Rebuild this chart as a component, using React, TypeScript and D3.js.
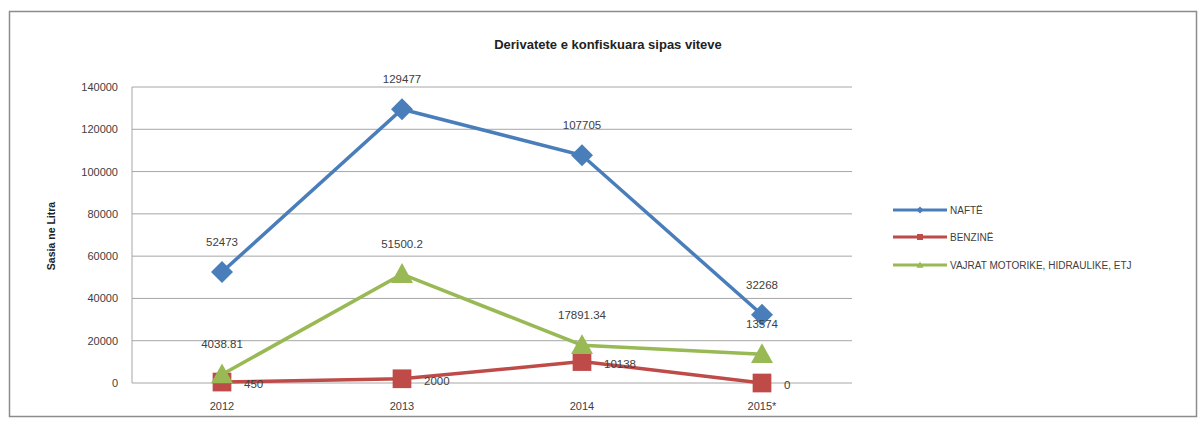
import * as d3 from "d3";
import React from "react";

const years = ["2012", "2013", "2014", "2015*"];
const nafte = [52473, 129477, 107705, 32268];
const benzine = [450, 2000, 10138, 0];
const vajrat = [4038.81, 51500.2, 17891.34, 13574];
const labelsNafte = ["52473", "129477", "107705", "32268"];
const labelsBenzine = ["450", "2000", "10138", "0"];
const labelsVajrat = ["4038.81", "51500.2", "17891.34", "13574"];
const yTicks = [0, 20000, 40000, 60000, 80000, 100000, 120000, 140000];

const series = [
  { name: "NAFTË", values: nafte, labels: labelsNafte, color: "#4a7ebb", marker: "diamond", pos: "above" },
  { name: "BENZINË", values: benzine, labels: labelsBenzine, color: "#be4b48", marker: "square", pos: "right" },
  { name: "VAJRAT MOTORIKE, HIDRAULIKE, ETJ", values: vajrat, labels: labelsVajrat, color: "#98b954", marker: "triangle", pos: "above" },
];

const font = "'Liberation Sans', Arial, sans-serif";

const Marker = ({ type, x, y, color, s }) => {
  if (type === "diamond") {
    return <path d={`M${x},${y - s}L${x + s},${y}L${x},${y + s}L${x - s},${y}Z`} fill={color} />;
  }
  if (type === "square") {
    return <rect x={x - s * 0.85} y={y - s * 0.85} width={s * 1.7} height={s * 1.7} fill={color} />;
  }
  return <path d={`M${x},${y - s}L${x + s},${y + s * 0.8}L${x - s},${y + s * 0.8}Z`} fill={color} />;
};

export default function App() {
  const left = 132, right = 852, top = 87, bottom = 383;
  const x = d3.scaleBand().domain(years).range([left, right]);
  const cx = (d) => x(d) + x.bandwidth() / 2;
  const y = d3.scaleLinear().domain([0, 140000]).range([bottom, top]);

  return (
    <svg width={1200} height={424} style={{ position: "absolute", left: 0, top: 0 }}>
      <rect x={9.5} y={11.5} width={1187} height={405} fill="#fff" stroke="#8c8c8c" strokeWidth={1.5} />
      <text x={608} y={49} textAnchor="middle" fontFamily={font} fontSize={13} fontWeight="bold" fill="#222">
        Derivatete e konfiskuara  sipas viteve
      </text>
      {yTicks.map((t) => (
        <g key={t}>
          <line x1={left} x2={right} y1={y(t)} y2={y(t)} stroke="#a6a6a6" strokeWidth={1} />
          <text x={118} y={y(t) + 4} textAnchor="end" fontFamily={font} fontSize={11} fill="#404040">{t}</text>
        </g>
      ))}
      <line x1={left} x2={left} y1={top} y2={bottom} stroke="#a6a6a6" />
      {years.map((yr) => (
        <text key={yr} x={cx(yr)} y={bottom + 27} textAnchor="middle" fontFamily={font} fontSize={11} fill="#404040">{yr}</text>
      ))}
      <text transform={`translate(55,236) rotate(-90)`} textAnchor="middle" fontFamily={font} fontSize={10.5} fontWeight="bold" fill="#222">
        Sasia ne Litra
      </text>
      {series.map((s) => {
        const line = d3.line<number>().x((_, i) => cx(years[i])).y((d) => y(d));
        return (
          <g key={s.name}>
            <path d={line(s.values) || ""} fill="none" stroke={s.color} strokeWidth={3.5} />
            {s.values.map((v, i) => (
              <Marker key={i} type={s.marker} x={cx(years[i])} y={y(v)} color={s.color} s={11} />
            ))}
            {s.values.map((v, i) =>
              s.pos === "above" ? (
                <text key={"l" + i} x={cx(years[i])} y={y(v) - 26} textAnchor="middle" fontFamily={font} fontSize={11.5} fill="#404040">
                  {s.labels[i]}
                </text>
              ) : (
                <text key={"l" + i} x={cx(years[i]) + 22} y={y(v) + 6} textAnchor="start" fontFamily={font} fontSize={11.5} fill="#404040">
                  {s.labels[i]}
                </text>
              )
            )}
          </g>
        );
      })}
      {series.map((s, i) => {
        const ly = [210, 237, 265][i];
        return (
          <g key={"lg" + s.name}>
            <line x1={893} x2={947} y1={ly} y2={ly} stroke={s.color} strokeWidth={3} />
            <Marker type={s.marker} x={920} y={ly} color={s.color} s={3.5} />
            <text x={950} y={ly + 4} fontFamily={font} fontSize={10} fill="#404040">{s.name}</text>
          </g>
        );
      })}
    </svg>
  );
}
